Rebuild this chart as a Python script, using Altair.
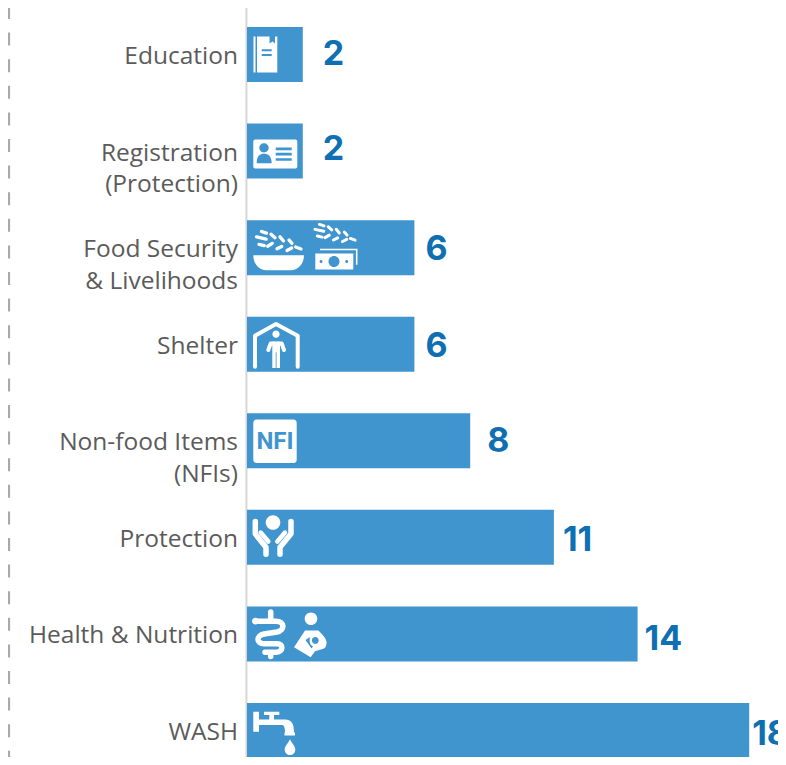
import altair as alt
import pandas as pd

# ---------- data ----------
categories = ["Education", "Registration (Protection)", "Food Security & Livelihoods", "Shelter",
              "Non-food Items (NFIs)", "Protection", "Health & Nutrition", "WASH"]
values = [2, 2, 6, 6, 8, 11, 14, 18]
label_lines = [["Education"], ["Registration", "(Protection)"], ["Food Security", "& Livelihoods"], ["Shelter"],
               ["Non-food Items", "(NFIs)"], ["Protection"], ["Health & Nutrition"], ["WASH"]]
label_dx = [20, 20, 11, 11, 17, 9, 7, 3]
label_dy = [0, -1, 2, 3, 1, 4, 6, 4]

BAR = "#4095cf"
NUM = "#0f6fb3"
TXT = "#5b5b5b"
FONT = "Open Sans"

PX = 27.9
BAND_MID = 27.5
xscale = alt.Scale(domain=[-239 / PX, (770 - 239) / PX], range=[0, 770], nice=False, zero=False)
yscale = alt.Scale(domain=categories, range=[19, 750], paddingInner=0.4305, paddingOuter=0)


# ---------- icon shape helpers (paths relative to bar start / bar centre) ----------
def circle(cx, cy, r):
    return f"M{cx - r},{cy} a{r},{r} 0 1,0 {2 * r},0 a{r},{r} 0 1,0 {-2 * r},0 Z "


def rect(x0, y0, x1, y1):
    return f"M{x0},{y0} H{x1} V{y1} H{x0} Z "


def rrect(x0, y0, x1, y1, r):
    return (f"M{x0 + r},{y0} H{x1 - r} Q{x1},{y0} {x1},{y0 + r} V{y1 - r} Q{x1},{y1} {x1 - r},{y1} "
            f"H{x0 + r} Q{x0},{y1} {x0},{y1 - r} V{y0 + r} Q{x0},{y0} {x0 + r},{y0} Z ")


WHEAT = [(14.5, -16.2, 19.5, -14.5), (24, -13.5, 28, -10), (33, -10.8, 36.5, -6.6), (42, -7.7, 45, -4.3),
         (9.5, -10.7, 19.2, -8.6), (20.7, -1.4, 25.3, -4.2), (30, 1.2, 34.7, -1.2), (40, 2.9, 44.7, 0.4),
         (12, -3.3, 17.3, -2), (48.7, -0.6, 54, 1.3)]


def wheat(scale, dx, dy):
    return " ".join(
        f"M{a * scale + dx:.1f},{b * scale + dy:.1f} L{c * scale + dx:.1f},{d * scale + dy:.1f}"
        for a, b, c, d in WHEAT)


icon_fill = [
    ("Education", "M10,-18 H22.5 V-11 L25.5,-13 L28,-11 V-18 H30.3 V18 H10 Z " + rect(6.5, -18, 8.5, 18)),
    ("Registration (Protection)", rrect(6.3, -11.5, 50.3, 17.5, 2)),
    ("Food Security & Livelihoods",
     "M6.3,7.5 H57 C57,17 50,22.5 44,22.5 H19 C13,22.5 6.3,17 6.3,7.5 Z "
     + rect(68.3, 5.8, 106.3, 21.8) + rect(73, 1, 110.5, 2.6) + rect(108.9, 1, 110.5, 17)),
    ("Shelter", circle(29, -10, 3.6) + rect(25.3, -2.5, 33, 23.8)),
    ("Non-food Items (NFIs)", rrect(6.3, -21.2, 49.7, 22.2, 3.5)),
    ("Protection", circle(26, -14.8, 7.3)),
    ("Health & Nutrition",
     circle(8.5, -12.8, 3.3) + circle(64, -15.2, 6.3)
     + "M58,-3.5 L71.3,-3.5 C75,0 80,5 79.5,9 C79.5,12 78.5,13.8 76.3,14.8 L68,17.2 L63.7,23.2 L47,13.2 Z"),
    ("WASH",
     rect(6.3, -18.8, 12, 1.2) + "M12,-11 H38 C45,-11 47,-6 47,2 H48 V5 H37.5 V2 H38 C38,-3 37,-5.5 35,-5.5 H12 Z "
     + rect(17, -18.8, 32.3, -15.5) + rect(22.3, -15.5, 27, -11)
     + "M43,8.8 C45,13 48.3,15.5 48.3,19.2 A5.3,5.3 0 1 1 37.7,19.2 C37.7,15.5 41,13 43,8.8 Z"),
]
icon_line = [
    ("Food Security & Livelihoods", 3.3, wheat(1, 0, 0)),
    ("Food Security & Livelihoods", 3, wheat(0.9, 59.5, -8.7)),
    ("Shelter", 4, "M8,22.5 V-8.5 L29,-20.2 L50.7,-8.5 V22.5"),
    ("Shelter", 4, "M21.3,5.8 L23.7,-0.8 H34.7 L37,5.8"),
    ("Protection", 5.5, "M8.3,-15.8 V-3.5 L19,9.8 V17"),
    ("Protection", 5.5, "M44,-15.8 V-3.5 L33,9.8 V17"),
    ("Protection", 4.5, "M13.7,-4.8 L21.3,4.2"),
    ("Protection", 4.5, "M38,-4.8 L30.3,4.2"),
    ("Health & Nutrition", 5.5,
     "M8,-12.8 H29 C38,-12.8 38,-3.5 30,-2 L17,0 C9,1.5 9,9.8 17,9.8 H30 C37,9.8 36,18.2 29.7,18.2 H18"),
    ("Health & Nutrition", 5.5, "M23.7,-22 V-15 M23.7,19 V22.5"),
]
icon_cut_fill = [
    ("Education", rect(14.7, -5.2, 24.7, -3.2) + rect(14.7, -0.5, 24.7, 1.5)),
    ("Registration (Protection)",
     circle(17, -3.2, 4.7) + "M9.7,12.2 C9.7,5 13,2.8 17,2.8 C21,2.8 24.7,5 24.7,12.2 Z "
     + rect(28.7, -3.5, 44.7, -0.8) + rect(28.7, 1.8, 44.7, 4.5) + rect(28.7, 7.2, 44.7, 9.8)),
    ("Food Security & Livelihoods", circle(87, 13.8, 5.5) + circle(74, 13.8, 1.5) + circle(99.7, 13.8, 1.5)),
    ("Shelter", rect(28.7, 8, 29.5, 24)),
    ("Health & Nutrition", circle(68.3, 6.5, 3.4) + "M58.5,6 L63,3 C62,8 63,11 66,12.5 L64.5,14.5 Z"),
]
icon_cut_line = [
    ("Food Security & Livelihoods", 1.4, "M71,4.2 H107.6"),
]
nfi_text = ["NFI"]

# ---------- tables ----------
bars = pd.DataFrame({"cat": categories, "value": values,
                     "label_x": [v + d / PX for v, d in zip(values, label_dx)],
                     "dy": [d + BAND_MID for d in label_dy]})
lines = pd.DataFrame([{"cat": c, "line": t, "off": i * 31.5 + BAND_MID + 2.5}
                      for c, ls in zip(categories, label_lines) for i, t in enumerate(ls)])
fill_df = pd.DataFrame(icon_fill, columns=["cat", "path"])
line_df = pd.DataFrame(icon_line, columns=["cat", "sw", "path"])
cut_fill_df = pd.DataFrame(icon_cut_fill, columns=["cat", "path"])
cut_line_df = pd.DataFrame(icon_cut_line, columns=["cat", "sw", "path"])
nfi_df = pd.DataFrame({"cat": ["Non-food Items (NFIs)"], "t": nfi_text, "x": [28 / PX]})

X = lambda f: alt.X(f, scale=xscale, axis=None)
Y = alt.Y("cat:N", scale=yscale, axis=None, sort=categories)

dashed = alt.Chart(pd.DataFrame({"x": [-8.53]})).mark_rule(
    color="#a9a9a9", strokeWidth=2.2, strokeDash=[13, 13.6], strokeDashOffset=2
).encode(x=X("x:Q"), y=alt.value(0), y2=alt.value(749))

axis_line = alt.Chart(pd.DataFrame({"x": [-0.02]})).mark_rule(
    color="#d6d6d6", strokeWidth=2
).encode(x=X("x:Q"), y=alt.value(0), y2=alt.value(749))

bar_layer = alt.Chart(bars).mark_bar(color=BAR, cornerRadius=0).encode(x=X("value:Q"), y=Y)

numbers = alt.Chart(bars).mark_text(
    align="left", baseline="middle", font="Inter", fontWeight="bold", fontSize=34, color=NUM
).encode(
    x=X("label_x:Q"), y=Y, text="value:Q",
    yOffset=alt.YOffset("dy:Q", scale=None)
)

names = alt.Chart(lines).mark_text(
    align="right", baseline="middle", font=FONT, fontSize=24.5, color=TXT, dx=-9
).encode(
    x=alt.X(datum=0, scale=xscale, axis=None), y=Y, text="line:N",
    yOffset=alt.YOffset("off:Q", scale=None)
)


def filled(df, colour):
    return alt.Chart(df).mark_point(filled=True, size=4, color=colour, opacity=1, strokeWidth=0).encode(
        x=alt.X(datum=0, scale=xscale, axis=None), y=Y, shape=alt.Shape("path:N", scale=None, legend=None))


def stroked(df, colour):
    return alt.Chart(df).mark_point(filled=False, size=4, color=colour, opacity=1,
                                    strokeCap="round", strokeJoin="round").encode(
        x=alt.X(datum=0, scale=xscale, axis=None), y=Y, shape=alt.Shape("path:N", scale=None, legend=None),
        strokeWidth=alt.StrokeWidth("sw:Q", scale=None, legend=None))


nfi = alt.Chart(nfi_df).mark_text(
    align="center", baseline="middle", font="Roboto", fontWeight="bold", fontSize=24, color=BAR, dy=1
).encode(x=X("x:Q"), y=Y, text="t:N")

chart = alt.layer(
    dashed, axis_line, bar_layer, numbers, names,
    filled(fill_df, "white"), stroked(line_df, "white"),
    filled(cut_fill_df, BAR), stroked(cut_line_df, BAR), nfi
).properties(
    width=770, height=749, padding=0, autosize=alt.AutoSizeParams(type="none")
).configure_view(stroke=None)

chart.save("out.html", embed_options={"renderer": "svg", "actions": False})
